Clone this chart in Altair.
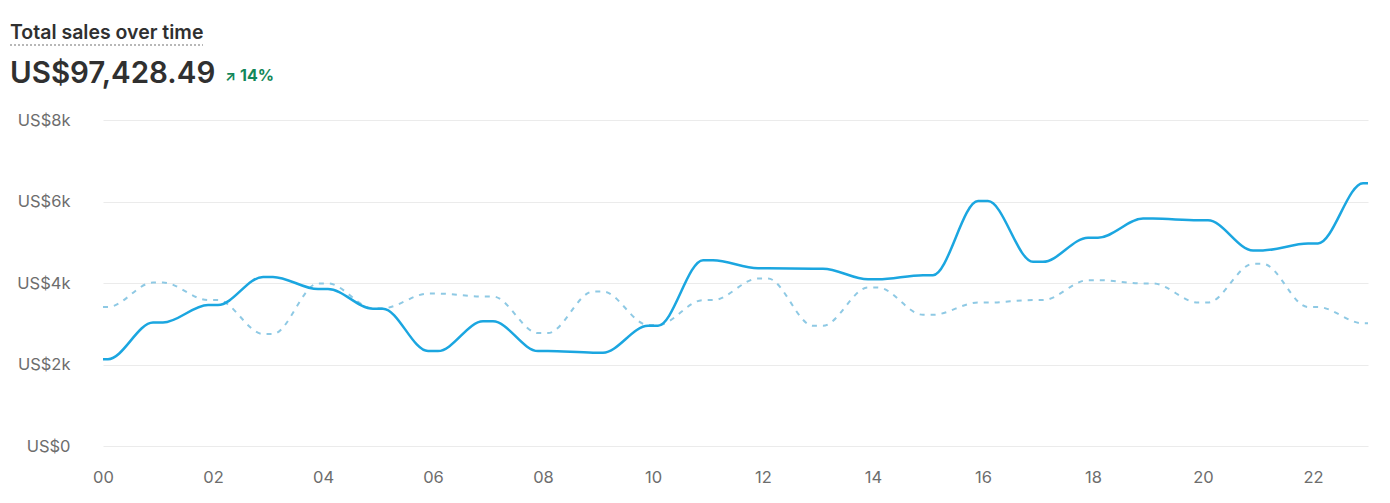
import altair as alt
import pandas as pd

# ---- data ----
hours = list(range(24))
current_sales = [2130, 3030, 3460, 4150, 3850, 3370, 2330, 3060, 2330, 2290, 2950, 4560,
                 4360, 4350, 4090, 4190, 6010, 4520, 5110, 5580, 5540, 4800, 4970, 6450]
previous_sales = [3410, 4010, 3580, 2750, 3990, 3380, 3740, 3670, 2770, 3790, 2970, 3580,
                  4110, 2950, 3890, 3220, 3520, 3580, 4070, 3990, 3520, 4470, 3410, 3010]
x_tick_values = [0, 2, 4, 6, 8, 10, 12, 14, 16, 18, 20, 22]
y_tick_values = [0, 2000, 4000, 6000, 8000]

TITLE = "Total sales over time"
TOTAL = "US$97,428.49"
CHANGE = "14%"
ARROW = "↗"

FONT = "Inter"

df = pd.DataFrame({
    "hour": hours * 2,
    "sales": current_sales + previous_sales,
    "period": ["current"] * 24 + ["previous"] * 24,
})

# Each hourly value is drawn as a short plateau (rounded-step look of the original)
base = (
    alt.Chart(df)
    .transform_calculate(off="[-0.09, 0.09]")
    .transform_flatten(["off"])
    .transform_calculate(xpos="clamp(datum.hour + datum.off, 0, 23)")
    .transform_aggregate(sales="mean(sales)", groupby=["period", "xpos"])
)

x_enc = alt.X(
    "xpos:Q",
    scale=alt.Scale(domain=[0, 23], nice=False, zero=False),
    axis=alt.Axis(
        values=x_tick_values, format="02d", grid=False, domain=False, ticks=False,
        labelPadding=23, labelFontSize=16.5, labelColor="#6d6d6d", labelFont=FONT,
        title=None, labelFlush=False,
    ),
)
y_enc = alt.Y(
    "sales:Q",
    scale=alt.Scale(domain=[0, 8000], nice=False),
    axis=alt.Axis(
        values=y_tick_values,
        labelExpr="datum.value == 0 ? 'US$0' : 'US$' + (datum.value / 1000) + 'k'",
        grid=True, gridColor="#ebebeb", gridWidth=1, domain=False, ticks=False,
        labelPadding=33, labelFontSize=16.5, labelColor="#6d6d6d", labelFont=FONT,
        title=None,
    ),
)

prev_line = base.transform_filter("datum.period == 'previous'").mark_line(
    interpolate="monotone", color="#8ec9e4", strokeWidth=2, strokeDash=[5, 6],
).encode(x=x_enc, y=y_enc)

cur_line = base.transform_filter("datum.period == 'current'").mark_line(
    interpolate="monotone", color="#1ba6e0", strokeWidth=2.5,
).encode(x=x_enc, y=y_enc)

title_txt = alt.Chart(pd.DataFrame({"t": [TITLE]})).mark_text(
    align="left", baseline="alphabetic", font=FONT, fontSize=19.5, fontWeight=600, color="#303030",
).encode(x=alt.value(-93), y=alt.value(-81), text="t:N")

underline = alt.Chart(pd.DataFrame({"t": [TITLE]})).mark_rule(
    color="#b8b8b8", strokeWidth=2, strokeDash=[2, 2],
).encode(x=alt.value(-93), x2=alt.value(100), y=alt.value(-75))

total_txt = alt.Chart(pd.DataFrame({"t": [TOTAL]})).mark_text(
    align="left", baseline="alphabetic", font=FONT, fontSize=29.5, fontWeight=600, color="#303030",
).encode(x=alt.value(-93), y=alt.value(-37), text="t:N")

arrow_txt = alt.Chart(pd.DataFrame({"t": [ARROW]})).mark_text(
    align="left", baseline="alphabetic", font=FONT, fontSize=14, fontWeight=700, color="#13875a",
).encode(x=alt.value(122), y=alt.value(-39), text="t:N")

change_txt = alt.Chart(pd.DataFrame({"t": [CHANGE]})).mark_text(
    align="left", baseline="alphabetic", font=FONT, fontSize=16, fontWeight=700, color="#13875a",
).encode(x=alt.value(137), y=alt.value(-39), text="t:N")

chart = (
    alt.layer(prev_line, cur_line, title_txt, underline, total_txt, arrow_txt, change_txt)
    .properties(
        width=1265, height=326,
        background="white",
        autosize=alt.AutoSizeParams(type="none"),
        padding={"left": 95, "top": 112, "right": 14, "bottom": 40},
    )
    .configure_view(stroke=None, strokeWidth=0)
)

chart.save("out.html", embed_options={"renderer": "svg", "actions": False})
